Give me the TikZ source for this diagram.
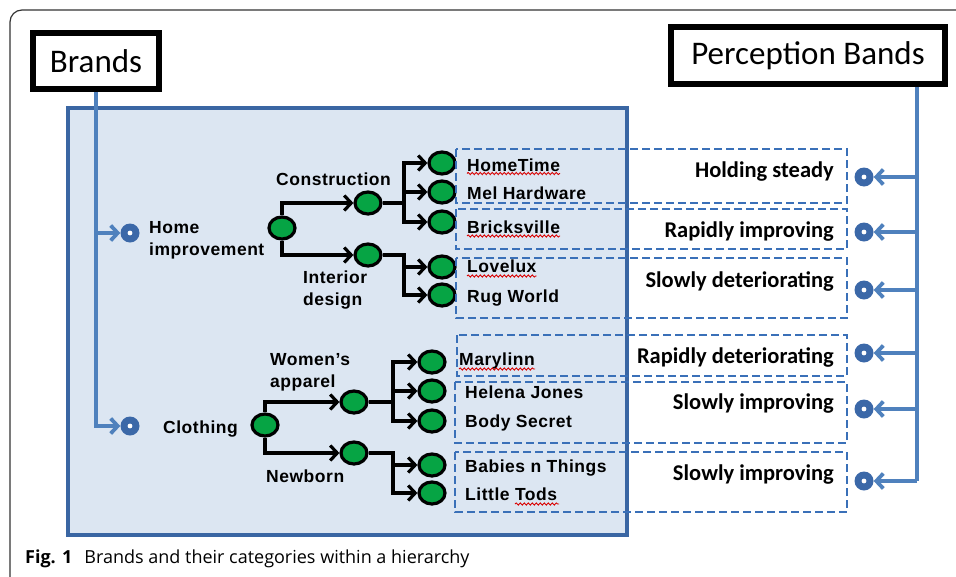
\documentclass[tikz,border=0pt]{standalone}
\usepackage{fontspec}
\setmainfont{Liberation Sans}
\newfontfamily\wideface[LetterSpace=3]{Liberation Sans}
\newfontfamily\calib{Carlito}
\newfontfamily\capfont{Open Sans}
\usetikzlibrary{arrows.meta,shapes.geometric,decorations.pathmorphing}

\definecolor{panelfill}{HTML}{DCE6F2}
\definecolor{paneledge}{HTML}{3A66A3}
\definecolor{linkblue}{HTML}{4F81BD}
\definecolor{dotblue}{HTML}{3B68A8}
\definecolor{bandblue}{HTML}{3A70B8}
\definecolor{ballgreen}{HTML}{06A444}

\tikzset{
  ball/.style={ellipse, draw=black, line width=3.2pt, fill=ballgreen,
    minimum width=26pt, minimum height=22pt, inner sep=0pt},
  tree/.style={draw=black, line width=3.2pt, line join=miter,
    -{Straight Barb[length=7pt,width=15pt]}},
  catlbl/.style={font=\wideface\fontsize{17.5}{22}\selectfont\bfseries, align=left,
    inner sep=0pt, anchor=base west},
  leaflbl/.style={font=\wideface\fontsize{17.5}{20}\selectfont\bfseries,
    inner sep=0pt, anchor=base west},
  bandlbl/.style={font=\calib\fontsize{22.5}{24}\selectfont\bfseries,
    inner sep=0pt, anchor=base east},
  titlebox/.style={draw=black, line width=6pt, fill=white, inner sep=0pt,
    font=\calib\fontsize{33}{36}\selectfont},
  target/.style={circle, fill=dotblue, minimum size=19pt, inner sep=0pt,
    path picture={\fill[white] (path picture bounding box.center) circle (2.4pt);}},
  bline/.style={draw=linkblue, line width=3.8pt,
    -{Straight Barb[length=7pt,width=15pt]}},
  bandbox/.style={draw=bandblue, line width=2.8pt, dash pattern=on 8pt off 4pt},
  squiggle/.style={draw=red!85!black, line width=0.9pt, decorate,
    decoration={snake, amplitude=1.1pt, segment length=4pt}}
}

\begin{document}
\begin{tikzpicture}[x=1pt,y=-1pt]
\useasboundingbox (0,0) rectangle (956,576);

% page frame
\begin{scope}
  \clip (0,0) rectangle (956,576);
  \draw[black!80, line width=1.2pt, rounded corners=12pt] (10,10) rectangle (1000,620);
\end{scope}

% shaded hierarchy panel
\draw[fill=panelfill, draw=paneledge, line width=3.2pt] (68,108) rectangle (627,535);

% title boxes
\node[titlebox, minimum width=126pt, minimum height=56pt] (brands) at (96,61) {Brands};
\node[titlebox, minimum width=274pt, minimum height=57pt] (pb) at (808,55.5) {Perception Bands};

% top-level category markers
\node[target] (tHome) at (130,233) {};
\node[target] (tCloth) at (130,426) {};
\draw[bline] (brands.south) |- (tHome.west);
\draw[bline] (brands.south) |- (tCloth.west);

% home improvement subtree
\node[ball] (hRoot) at (282,228) {};
\node[ball] (cons) at (368,203) {};
\node[ball] (intr) at (368,255) {};
\node[ball] (l1) at (442,163) {};
\node[ball] (l2) at (442,192) {};
\node[ball] (l3) at (442,222) {};
\node[ball] (l4) at (442,267) {};
\node[ball] (l5) at (442,295) {};
\draw[tree] (hRoot.north) |- (cons.west);
\draw[tree] (hRoot.south) |- (intr.west);
\draw[tree] (cons.east) -- (404,203) |- (l1.west);
\draw[tree] (cons.east) -- (404,203) |- (l2.west);
\draw[tree] (cons.east) -- (404,203) |- (l3.west);
\draw[tree] (intr.east) -- (404,255) |- (l4.west);
\draw[tree] (intr.east) -- (404,255) |- (l5.west);

% clothing subtree
\node[ball] (cRoot) at (265,425) {};
\node[ball] (wom) at (354,402) {};
\node[ball] (newb) at (354,453) {};
\node[ball] (m1) at (432,362) {};
\node[ball] (m2) at (432,391) {};
\node[ball] (m3) at (432,421) {};
\node[ball] (m4) at (432,465) {};
\node[ball] (m5) at (432,493) {};
\draw[tree] (cRoot.north) |- (wom.west);
\draw[tree] (cRoot.south) |- (newb.west);
\draw[tree] (wom.east) -- (393,402) |- (m1.west);
\draw[tree] (wom.east) -- (393,402) |- (m2.west);
\draw[tree] (wom.east) -- (393,402) |- (m3.west);
\draw[tree] (newb.east) -- (393,453) |- (m4.west);
\draw[tree] (newb.east) -- (393,453) |- (m5.west);

% category labels (base anchor sits on the last line)
\node[catlbl] (lHome) at (149,255) {Home\\improvement};
\node[catlbl] (lCons) at (276,185) {Construction};
\node[catlbl] (lIntr) at (303,305) {Interior\\design};
\node[catlbl] (lCloth) at (163,433) {Clothing};
\node[catlbl] (lWom) at (270,387) {Women’s\\apparel};
\node[catlbl] (lNewb) at (266,482) {Newborn};

% perception band groups
\draw[bandbox] (456,149) rectangle (847,203);
\draw[bandbox] (456,209) rectangle (847,249);
\draw[bandbox] (456,258) rectangle (847,318);
\draw[bandbox] (457,335) rectangle (847,376);
\draw[bandbox] (455,382) rectangle (847,443);
\draw[bandbox] (455,452) rectangle (847,512);

% brand names
\node[leaflbl] (nHome) at (467,171) {HomeTime};
\node[leaflbl] (nMel) at (467,199) {Mel Hardware};
\node[leaflbl] (nBrick) at (467,233) {Bricksville};
\node[leaflbl] (nLove) at (467,272) {Lovelux};
\node[leaflbl] (nRug) at (467,302) {Rug World};
\node[leaflbl] (nMary) at (459,365) {Marylinn};
\node[leaflbl] (nHel) at (465,398) {Helena Jones};
\node[leaflbl] (nBody) at (465,427) {Body Secret};
\node[leaflbl] (nBab) at (465,472) {Babies n Things};
\node[leaflbl] (nLit) at (465,500) {Little Tods};

% spell-check underlines
\draw[squiggle] ([yshift=-2.5pt]nHome.base west) -- ([yshift=-2.5pt]nHome.base east);
\draw[squiggle] ([yshift=-3pt]nBrick.base west) -- ([yshift=-3pt]nBrick.base east);
\draw[squiggle] ([yshift=-4pt]nLove.base west) -- ([yshift=-4pt]nLove.base east);
\draw[squiggle] ([yshift=-4pt]nMary.base west) -- ([yshift=-4pt]nMary.base east);
\draw[squiggle] (515,504) -- (559,504);

% band labels
\node[bandlbl] (b1) at (834,177) {Holding steady};
\node[bandlbl] (b2) at (834,237) {Rapidly improving};
\node[bandlbl] (b3) at (834,287) {Slowly deteriorating};
\node[bandlbl] (b4) at (834,363) {Rapidly deteriorating};
\node[bandlbl] (b5) at (834,409) {Slowly improving};
\node[bandlbl] (b6) at (834,480) {Slowly improving};

% band markers
\node[target] (p1) at (864,177) {};
\node[target] (p2) at (864,232) {};
\node[target] (p3) at (864,290) {};
\node[target] (p4) at (864,353) {};
\node[target] (p5) at (864,409) {};
\node[target] (p6) at (864,481) {};
\coordinate (spine) at (917,0);
\draw[draw=linkblue, line width=4.8pt] (pb.south -| spine) -- (spine |- p6);
\foreach \p in {p1,p2,p3,p4,p5,p6}
  \draw[bline] (spine |- \p) -- (\p.east);

% caption
\node[anchor=base west, inner sep=0pt, font=\capfont\fontsize{18}{20}\selectfont] (cap) at (25,563)
  {\textbf{Fig. 1}\hspace{12pt}Brands and their categories within a hierarchy};
\end{tikzpicture}
\end{document}
